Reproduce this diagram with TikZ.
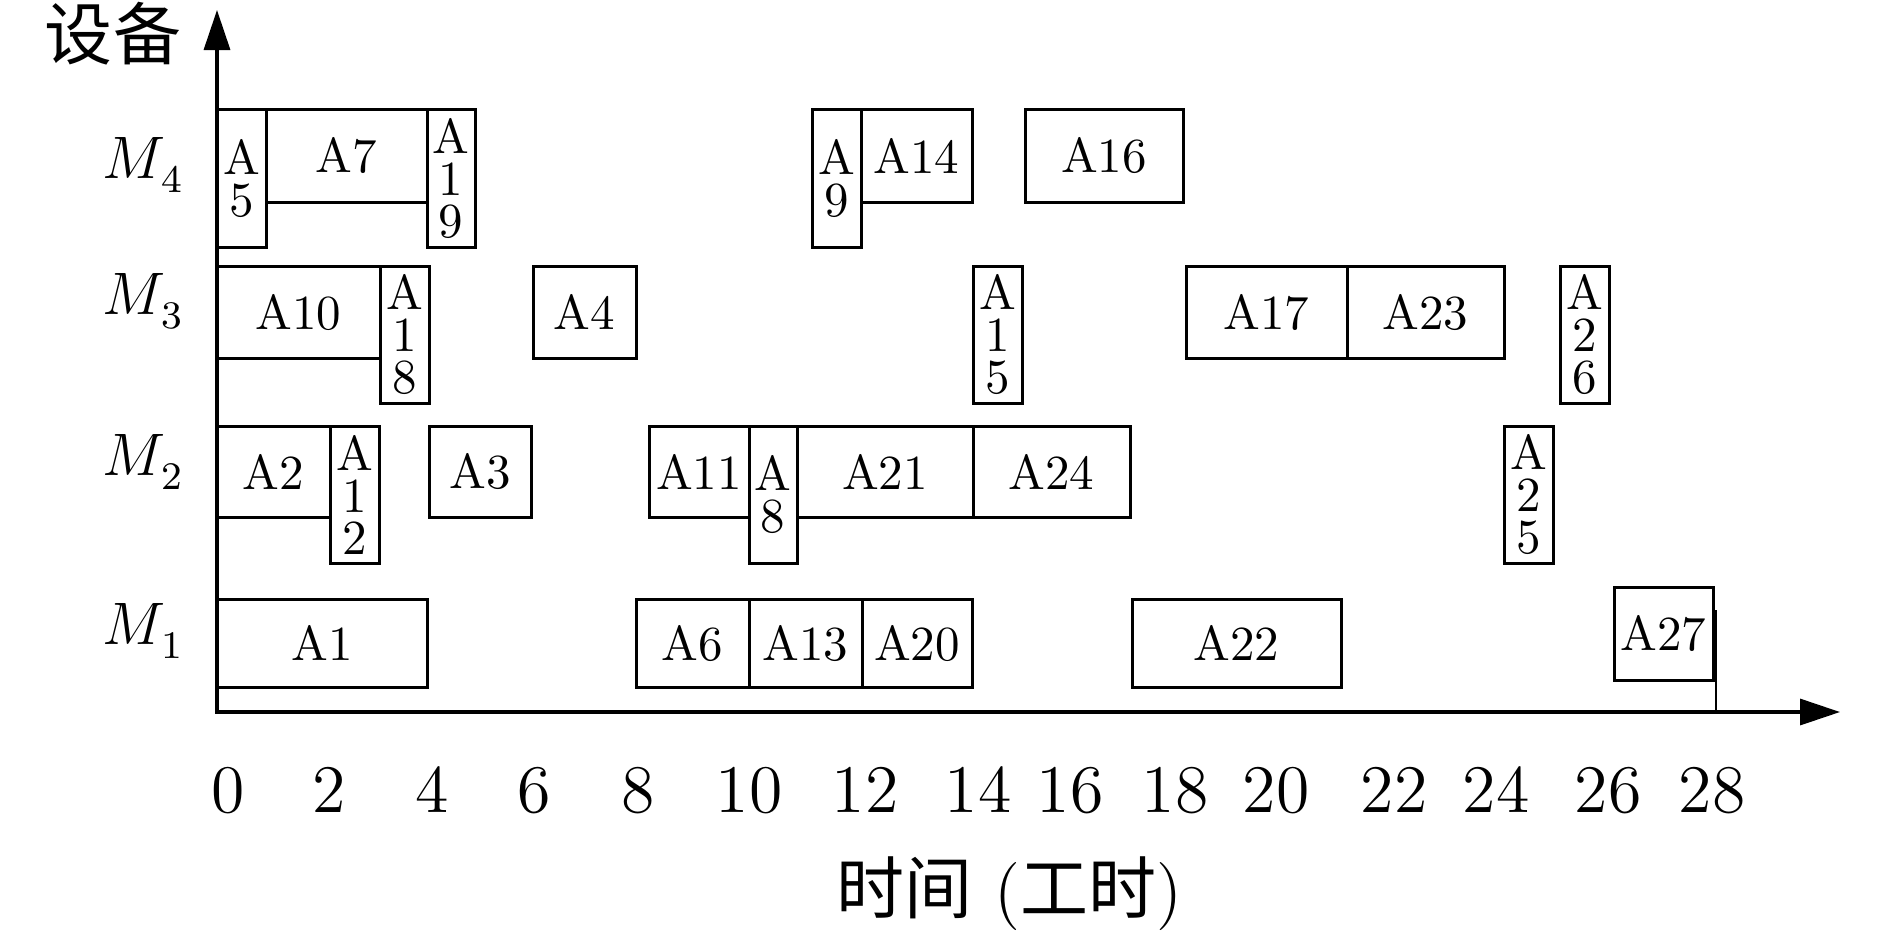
\documentclass[tikz,border=0pt]{standalone}
\usepackage{fontspec}
\newfontfamily\cjk{Noto Sans CJK SC}
\usetikzlibrary{arrows.meta}
\newcommand{\machsub}[1]{$M$\kern-0.8pt\raisebox{-2.8pt}{\fontsize{7.8}{8}\selectfont #1}}
\begin{document}
\begin{tikzpicture}[x=0.2pt,y=-0.2pt,
  jb/.style n args={4}{draw, line width=0.6pt, inner sep=0pt, align=center,
    font=\fontsize{9.8}{8.4}\selectfont,
    minimum width={(#3-#1)*0.2pt}, minimum height={(#4-#2)*0.2pt},
    at={({(#1+#3)/2},{(#2+#4)/2})}},
  axisline/.style={line width=0.66pt,
    {Triangle[length=8pt,width=5.2pt]}-{Triangle[length=8pt,width=5.2pt]}},
  thinline/.style={line width=0.4pt},
  big/.style={font=\fontsize{13.6}{16}\selectfont, inner sep=0pt, anchor=base},
  mlab/.style={font=\fontsize{12.9}{15}\selectfont, inner sep=0pt, anchor=base west},
  bigcjk/.style={font={\fontsize{13.6}{16}\selectfont\cjk}, inner sep=0pt, anchor=base},
]
\useasboundingbox (0,0) rectangle (1890,935);

% axes
\coordinate (O) at (217,712);
\coordinate (ytip) at (217,10);
\coordinate (xtip) at (1840,712);
\draw[axisline] (ytip) -- (O) -- (xtip);

% M4 row
\node[jb={217}{109}{266}{247}] (A5) {A\\5};
\node[jb={266}{109}{427}{202}] (A7) {A7};
\node[jb={427}{109}{475}{247}] (A19) {A\\1\\9};
\node[jb={812}{109}{861}{247}] (A9) {A\\9};
\node[jb={861}{109}{972}{202}] (A14) {A14};
\node[jb={1025}{109}{1183}{202}] (A16) {A16};

% M3 row
\node[jb={217}{266}{380}{358}] (A10) {A10};
\node[jb={380}{266}{429}{403}] (A18) {A\\1\\8};
\node[jb={533}{266}{636}{358}] (A4) {A4};
\node[jb={973}{266}{1022}{403}] (A15) {A\\1\\5};
\node[jb={1186}{266}{1347}{358}] (A17) {A17};
\node[jb={1347}{266}{1504}{358}] (A23) {A23};
\node[jb={1560}{266}{1609}{403}] (A26) {A\\2\\6};

% M2 row
\node[jb={217}{426}{330}{517}] (A2) {A2};
\node[jb={330}{426}{379}{563}] (A12) {A\\1\\2};
\node[jb={429}{426}{531}{517}] (A3) {A3};
\node[jb={649}{426}{749}{517}] (A11) {A11};
\node[jb={749}{426}{797}{563}] (A8) {A\\8};
\node[jb={797}{426}{973}{517}] (A21) {A21};
\node[jb={973}{426}{1130}{517}] (A24) {A24};
\node[jb={1504}{426}{1553}{563}] (A25) {A\\2\\5};

% M1 row
\node[jb={217}{599}{427}{687}] (A1) {A1};
\node[jb={636}{599}{749}{687}] (A6) {A6};
\node[jb={749}{599}{862}{687}] (A13) {A13};
\node[jb={862}{599}{972}{687}] (A20) {A20};
\node[jb={1132}{599}{1341}{687}] (A22) {A22};
\node[jb={1614}{587}{1713}{680}] (A27) {A27};
\coordinate (c28) at (1716,610);
\draw[thinline] (c28) -- (c28 |- O);

% machine labels
\node[mlab] (M4) at (101,178) {\machsub{4}};
\node[mlab] (M3) at (101,314) {\machsub{3}};
\node[mlab] (M2) at (101,475) {\machsub{2}};
\node[mlab] (M1) at (101,644) {\machsub{1}};
\node[bigcjk] (ylab) at (113,59) {设备};

% time labels
\node[big] (t0) at (228,812) {0};
\node[big] (t2) at (329,812) {2};
\node[big] (t4) at (432,812) {4};
\node[big] (t6) at (534,812) {6};
\node[big] (t8) at (638,812) {8};
\node[big] (t10) at (749,812) {10};
\node[big] (t12) at (865,812) {12};
\node[big] (t14) at (978,812) {14};
\node[big] (t16) at (1070,812) {16};
\node[big] (t18) at (1175,812) {18};
\node[big] (t20) at (1276,812) {20};
\node[big] (t22) at (1394,812) {22};
\node[big] (t24) at (1496,812) {24};
\node[big] (t26) at (1608,812) {26};
\node[big] (t28) at (1712,812) {28};
\node[big] (xlab) at (1009,913) {{\cjk 时间} ({\cjk 工时})};
\end{tikzpicture}
\end{document}
